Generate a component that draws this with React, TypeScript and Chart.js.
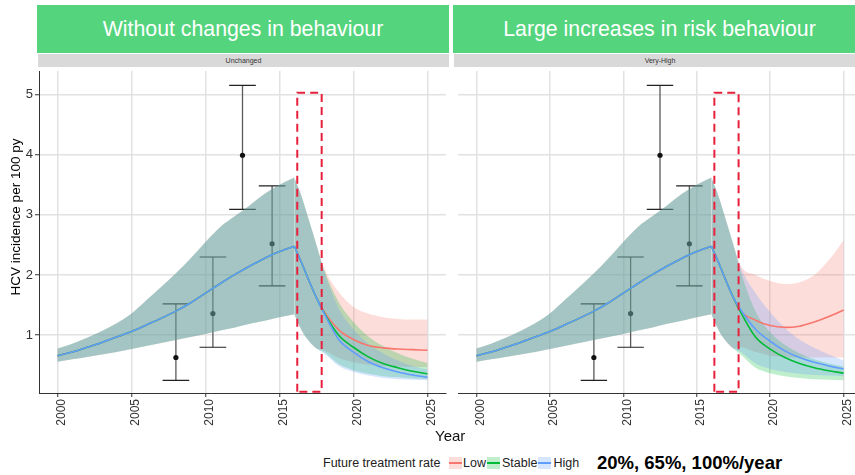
import React, { useEffect, useRef } from 'react';
import { Chart, registerables } from 'chart.js';

Chart.register(...registerables);

const FONT = '"Liberation Sans", Arial, Helvetica, sans-serif';

// ---- data ----
const YEARS = [2000, 2001, 2002, 2003, 2004, 2005, 2006, 2007, 2008, 2009, 2010, 2011, 2012, 2013, 2014, 2015, 2016, 2016.5, 2017, 2017.5, 2018, 2019, 2020, 2021, 2022, 2023, 2024, 2025];

// common history (2000 .. 2017.5), identical for all scenarios
const COMMON_MID = [0.66, 0.72, 0.8, 0.88, 0.97, 1.06, 1.17, 1.28, 1.4, 1.54, 1.7, 1.86, 2.01, 2.15, 2.28, 2.39, 2.48, 2.2, 1.9, 1.62];
const COMMON_HI = [0.78, 0.86, 0.96, 1.07, 1.2, 1.36, 1.58, 1.8, 2.03, 2.28, 2.55, 2.8, 2.98, 3.16, 3.35, 3.5, 3.62, 3.3, 2.9, 2.5];
const COMMON_LO = [0.56, 0.6, 0.64, 0.68, 0.72, 0.77, 0.82, 0.87, 0.92, 0.97, 1.02, 1.08, 1.13, 1.19, 1.24, 1.3, 1.35, 1.08, 0.9, 0.78];

// scenario tails 2018 .. 2025 — "Unchanged"
const L_LOW_MID = [1.4, 1.09, 0.93, 0.83, 0.79, 0.77, 0.76, 0.75];
const L_LOW_HI = [2.12, 1.72, 1.47, 1.36, 1.3, 1.27, 1.26, 1.26];
const L_LOW_LO = [0.75, 0.62, 0.55, 0.51, 0.49, 0.48, 0.47, 0.47];
const L_STABLE_MID = [1.38, 1.0, 0.8, 0.64, 0.53, 0.46, 0.4, 0.36];
const L_STABLE_HI = [2.1, 1.55, 1.22, 0.98, 0.82, 0.7, 0.61, 0.54];
const L_STABLE_LO = [0.72, 0.52, 0.42, 0.36, 0.32, 0.3, 0.28, 0.27];
const L_HIGH_MID = [1.37, 0.93, 0.72, 0.56, 0.46, 0.39, 0.34, 0.3];
const L_HIGH_HI = [2.08, 1.45, 1.1, 0.86, 0.7, 0.58, 0.49, 0.43];
const L_HIGH_LO = [0.7, 0.49, 0.39, 0.33, 0.29, 0.27, 0.26, 0.25];

// scenario tails 2018 .. 2025 — "Very-High"
const R_LOW_MID = [1.4, 1.25, 1.16, 1.13, 1.15, 1.22, 1.31, 1.42];
const R_LOW_HI = [2.15, 2.0, 1.9, 1.85, 1.88, 2.0, 2.25, 2.58];
const R_LOW_LO = [0.8, 0.72, 0.66, 0.64, 0.63, 0.63, 0.63, 0.63];
const R_STABLE_MID = [1.38, 0.97, 0.77, 0.63, 0.53, 0.46, 0.41, 0.37];
const R_STABLE_HI = [2.05, 1.4, 1.05, 0.84, 0.7, 0.6, 0.53, 0.48];
const R_STABLE_LO = [0.68, 0.46, 0.37, 0.32, 0.29, 0.27, 0.26, 0.25];
const R_HIGH_MID = [1.42, 1.1, 0.9, 0.74, 0.63, 0.55, 0.49, 0.44];
const R_HIGH_HI = [2.12, 1.7, 1.38, 1.12, 0.93, 0.79, 0.68, 0.58];
const R_HIGH_LO = [0.72, 0.53, 0.44, 0.39, 0.36, 0.34, 0.33, 0.32];

// observed incidence with error bars
const ERR_YEAR = [2008.0, 2010.5, 2012.5, 2014.5];
const ERR_MID = [0.63, 1.36, 3.99, 2.52];
const ERR_LO = [0.25, 0.8, 3.09, 1.82];
const ERR_HI = [1.52, 2.3, 5.15, 3.48];

// highlighted intervention window
const BOX_X = [2016.2, 2017.85];
const BOX_Y = [0.06, 5.03];

const X_TICKS_STEP = 5;
const Y_TICKS_STEP = 1;

const SCEN_COLORS = ['#F8766D', '#00BA38', '#619CFF'];
const SCEN_FILLS = ['rgba(248,118,109,0.25)', 'rgba(0,186,56,0.25)', 'rgba(97,156,255,0.25)'];
const CAP_HALF = 0.9;
const PEAK_INDEX = 16;

type Tail = { mid: number[]; hi: number[]; lo: number[] };

const LEFT_TAILS: Tail[] = [
  { mid: L_LOW_MID, hi: L_LOW_HI, lo: L_LOW_LO },
  { mid: L_STABLE_MID, hi: L_STABLE_HI, lo: L_STABLE_LO },
  { mid: L_HIGH_MID, hi: L_HIGH_HI, lo: L_HIGH_LO },
];
const RIGHT_TAILS: Tail[] = [
  { mid: R_LOW_MID, hi: R_LOW_HI, lo: R_LOW_LO },
  { mid: R_STABLE_MID, hi: R_STABLE_HI, lo: R_STABLE_LO },
  { mid: R_HIGH_MID, hi: R_HIGH_HI, lo: R_HIGH_LO },
];

const toPts = (ys: number[], from: number, to: number) =>
  YEARS.slice(from, to + 1).map((x, i) => ({ x, y: ys[from + i] }));

function buildDatasets(tails: Tail[]) {
  const seq: any[] = [];
  // error bars (bottom)
  const vert: any[] = [];
  const caps: any[] = [];
  ERR_YEAR.forEach((x, i) => {
    vert.push({ x, y: ERR_LO[i] }, { x, y: ERR_HI[i] }, { x, y: null });
    caps.push({ x: x - CAP_HALF, y: ERR_HI[i] }, { x: x + CAP_HALF, y: ERR_HI[i] }, { x, y: null });
    caps.push({ x: x - CAP_HALF, y: ERR_LO[i] }, { x: x + CAP_HALF, y: ERR_LO[i] }, { x, y: null });
  });
  seq.push({ data: vert, borderColor: '#5a5a5a', borderWidth: 1.3, pointRadius: 0, tension: 0, fill: false, spanGaps: false });
  seq.push({ data: caps, borderColor: '#222', borderWidth: 1.2, pointRadius: 0, tension: 0, fill: false, spanGaps: false });
  seq.push({
    data: ERR_YEAR.map((x, i) => ({ x, y: ERR_MID[i] })),
    showLine: false, pointRadius: 2.6, pointBackgroundColor: '#111', pointBorderWidth: 0, fill: false,
  });

  const full = tails.map((t) => ({
    mid: COMMON_MID.concat(t.mid),
    hi: COMMON_HI.concat(t.hi),
    lo: COMMON_LO.concat(t.lo),
  }));
  const segs: [number, number][] = [[0, PEAK_INDEX], [PEAK_INDEX, YEARS.length - 1]];

  // ribbons
  full.forEach((s, k) => {
    segs.forEach(([a, b]) => {
      seq.push({ data: toPts(s.lo, a, b), borderColor: 'rgba(0,0,0,0)', borderWidth: 0, pointRadius: 0, fill: false, cubicInterpolationMode: 'monotone' });
      seq.push({ data: toPts(s.hi, a, b), borderColor: 'rgba(0,0,0,0)', borderWidth: 0, pointRadius: 0, fill: '-1', backgroundColor: SCEN_FILLS[k], cubicInterpolationMode: 'monotone' });
    });
  });
  // lines
  full.forEach((s, k) => {
    segs.forEach(([a, b]) => {
      seq.push({ data: toPts(s.mid, a, b), borderColor: SCEN_COLORS[k], borderWidth: 1.6, pointRadius: 0, fill: false, cubicInterpolationMode: 'monotone' });
    });
  });
  // dashed box (top)
  seq.push({
    data: [
      { x: BOX_X[0], y: BOX_Y[0] }, { x: BOX_X[0], y: BOX_Y[1] }, { x: BOX_X[1], y: BOX_Y[1] },
      { x: BOX_X[1], y: BOX_Y[0] }, { x: BOX_X[0], y: BOX_Y[0] },
    ],
    borderColor: '#E8203C', borderWidth: 2, borderDash: [8, 5], pointRadius: 0, tension: 0, fill: false, clip: false,
  });
  const n = seq.length;
  return seq.map((d, i) => ({ ...d, order: n - i }));
}

function Panel({ tails, showY, left, width }: { tails: Tail[]; showY: boolean; left: number; width: number }) {
  const ref = useRef<HTMLCanvasElement>(null);
  useEffect(() => {
    if (!ref.current) return;
    const chart = new Chart(ref.current, {
      type: 'line',
      data: { datasets: buildDatasets(tails) as any },
      options: {
        responsive: false,
        animation: false,
        events: [],
        layout: { padding: 0 },
        plugins: { legend: { display: false }, tooltip: { enabled: false }, title: { display: false } },
        scales: {
          x: {
            type: 'linear',
            min: 1998.75,
            max: 2026.25,
            ticks: {
              stepSize: X_TICKS_STEP,
              includeBounds: false,
              autoSkip: false,
              minRotation: 90,
              maxRotation: 90,
              padding: 2,
              labelOffset: 4,
              color: '#333',
              font: { family: FONT, size: 12 },
              callback: (v: any) => String(v),
            },
            grid: { color: '#e2e2e2', lineWidth: 1.5, tickLength: 4, tickColor: '#333', tickWidth: 1 },
            border: { display: true, color: '#333', width: 1 },
            afterFit: (s: any) => { s.height = 47; s.paddingLeft = 0; s.paddingRight = 0; },
          },
          y: {
            type: 'linear',
            min: 0.04,
            max: 5.39,
            ticks: {
              display: showY,
              stepSize: Y_TICKS_STEP,
              includeBounds: false,
              padding: 2,
              color: '#333',
              font: { family: FONT, size: 13 },
              callback: (v: any) => String(v),
            },
            grid: { color: '#e2e2e2', lineWidth: 1.5, tickLength: 4, tickColor: '#333', tickWidth: 1, drawTicks: showY },
            border: { display: showY, color: '#333', width: 1 },
            afterFit: (s: any) => { s.width = showY ? 39 : 0; s.paddingTop = 0; s.paddingBottom = 0; },
          },
        },
      } as any,
    });
    return () => chart.destroy();
  }, []);
  return (
    <canvas
      ref={ref}
      width={width}
      height={373}
      style={{ position: 'absolute', left, top: 67, width, height: 373 }}
    />
  );
}

const headerStyle = (left: number, width: number): React.CSSProperties => ({
  position: 'absolute', left, top: 5, width, height: 48, background: '#53D47D', color: '#fff',
  fontSize: 21.3, lineHeight: '48px', textAlign: 'center', fontFamily: FONT,
});
const stripStyle = (left: number, width: number): React.CSSProperties => ({
  position: 'absolute', left, top: 53.5, width, height: 13.5, background: '#D9D9D9', color: '#333',
  fontSize: 7, lineHeight: '13.5px', textAlign: 'center', fontFamily: FONT,
});
const keyStyle = (left: number, k: number): React.CSSProperties => ({
  position: 'absolute', left, top: 457, width: 13, height: 12, background: SCEN_FILLS[k],
});
const keyLine = (k: number): React.CSSProperties => ({
  position: 'absolute', left: 0, top: 5, width: 13, height: 2, background: SCEN_COLORS[k],
});
const legText = (left: number): React.CSSProperties => ({
  position: 'absolute', left, top: 455, height: 16, lineHeight: '16px', fontSize: 12.5, color: '#222',
  fontFamily: FONT, whiteSpace: 'nowrap',
});

export default function App() {
  return (
    <div style={{ position: 'fixed', left: 0, top: 0, width: 855, height: 475, overflow: 'hidden', background: '#fff', fontFamily: FONT }}>
      <div style={headerStyle(37, 412)}>Without changes in behaviour</div>
      <div style={headerStyle(453, 413)}>Large increases in risk behaviour</div>
      <div style={stripStyle(38, 411)}>Unchanged</div>
      <div style={stripStyle(454, 412)}>Very-High</div>
      <Panel tails={LEFT_TAILS} showY={true} left={0} width={450} />
      <Panel tails={RIGHT_TAILS} showY={false} left={454} width={412} />
      <div style={{
        position: 'absolute', left: -69, top: 209, width: 170, height: 16, lineHeight: '16px', textAlign: 'center',
        transform: 'rotate(-90deg)', fontSize: 13.5, fontWeight: 'normal', color: '#000', whiteSpace: 'nowrap', fontFamily: FONT,
      }}>HCV incidence per 100 py</div>
      <div style={{ position: 'absolute', left: 435, top: 428, height: 16, lineHeight: '16px', fontSize: 15, color: '#111', fontFamily: FONT }}>Year</div>
      <div style={legText(323)}>Future treatment rate</div>
      <div style={keyStyle(448.5, 0)}><div style={keyLine(0)} /></div>
      <div style={legText(463)}>Low</div>
      <div style={keyStyle(487, 1)}><div style={keyLine(1)} /></div>
      <div style={legText(502)}>Stable</div>
      <div style={keyStyle(538, 2)}><div style={keyLine(2)} /></div>
      <div style={legText(553.5)}>High</div>
      <div style={{ position: 'absolute', left: 597, top: 452, lineHeight: '22px', fontSize: 18.5, fontWeight: 'bold', color: '#000', fontFamily: FONT, whiteSpace: 'nowrap' }}>20%, 65%, 100%/year</div>
    </div>
  );
}
